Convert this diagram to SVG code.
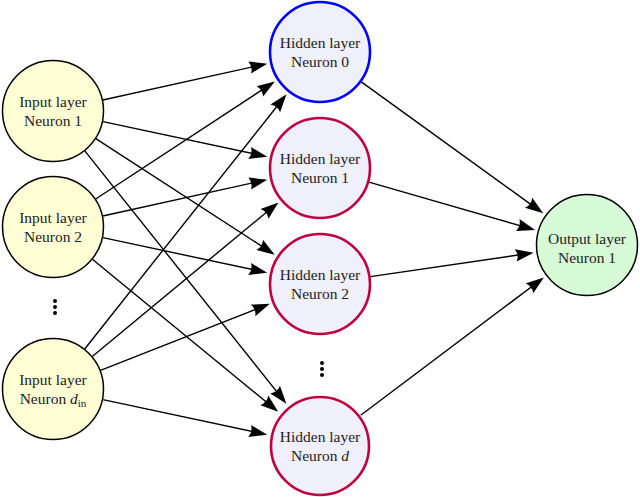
<svg xmlns="http://www.w3.org/2000/svg" width="640" height="497" viewBox="0 0 640 497">
<style>
.in{fill:#ffffd6;stroke:#000;stroke-width:1.5}
.hid{fill:#f0f0fd;stroke:#bf0040;stroke-width:2.6}
.hid0{fill:#f0f0fd;stroke:#0000ff;stroke-width:2.6}
.out{fill:#d6fbd6;stroke:#000;stroke-width:1.5}
text{font-family:"Liberation Serif","Times New Roman",serif;font-size:15.5px;fill:#222;text-anchor:middle}
.e line{stroke:#000;stroke-width:1.4;marker-end:url(#ah)}
.dot{fill:#000}
</style>
<defs>
<marker id="ah" markerUnits="userSpaceOnUse" markerWidth="18" markerHeight="14" viewBox="0 0 18 14" refX="15" refY="7" orient="auto">
<path d="M0,0.8 L18,7 L0,13.2 Q3.5,7 0,0.8 z" fill="#000"/>
</marker>
</defs>
<g id="connectors" class="e">
<line x1="102.8" y1="100.0" x2="264.3" y2="64.3"/>
<line x1="102.9" y1="121.6" x2="264.3" y2="156.1"/>
<line x1="95.8" y1="138.7" x2="272.2" y2="253.0"/>
<line x1="84.8" y1="150.9" x2="284.5" y2="401.4"/>
<line x1="95.7" y1="199.0" x2="272.3" y2="83.2"/>
<line x1="102.8" y1="216.0" x2="264.3" y2="180.3"/>
<line x1="102.9" y1="237.6" x2="264.3" y2="272.1"/>
<line x1="92.4" y1="259.3" x2="275.9" y2="409.9"/>
<line x1="84.7" y1="349.0" x2="284.6" y2="96.7"/>
<line x1="92.3" y1="356.5" x2="276.1" y2="204.3"/>
<line x1="100.5" y1="370.3" x2="267.0" y2="304.9"/>
<line x1="102.9" y1="399.6" x2="264.3" y2="434.1"/>
<line x1="361.3" y1="81.9" x2="540.8" y2="211.6"/>
<line x1="369.0" y1="182.1" x2="532.2" y2="229.2"/>
<line x1="370.5" y1="276.6" x2="530.6" y2="253.2"/>
<line x1="360.7" y1="415.3" x2="541.5" y2="279.3"/>
</g>
<g id="input1"><circle class="in" cx="53" cy="111" r="50.5"/><text x="53" y="107">Input layer</text><text x="53" y="126">Neuron 1</text></g>
<g id="input2"><circle class="in" cx="53" cy="227" r="50.5"/><text x="53" y="223">Input layer</text><text x="53" y="242">Neuron 2</text></g>
<g id="input-dots"><circle class="dot" cx="55" cy="301" r="2"/><circle class="dot" cx="55" cy="307" r="2"/><circle class="dot" cx="55" cy="313" r="2"/></g>
<g id="input-din"><circle class="in" cx="53" cy="389" r="50.5"/><text x="53" y="385">Input layer</text><text x="53" y="404">Neuron <tspan font-style="italic">d</tspan><tspan font-size="11" dy="3">in</tspan></text></g>
<g id="hidden0"><circle class="hid0" cx="320" cy="52" r="50"/><text x="320" y="48">Hidden layer</text><text x="320" y="67">Neuron 0</text></g>
<g id="hidden1"><circle class="hid" cx="320" cy="168" r="50"/><text x="320" y="164">Hidden layer</text><text x="320" y="183">Neuron 1</text></g>
<g id="hidden2"><circle class="hid" cx="320" cy="284" r="50"/><text x="320" y="280">Hidden layer</text><text x="320" y="299">Neuron 2</text></g>
<g id="hidden-dots"><circle class="dot" cx="322" cy="363" r="2"/><circle class="dot" cx="322" cy="369" r="2"/><circle class="dot" cx="322" cy="375" r="2"/></g>
<g id="hiddend"><circle class="hid" cx="320" cy="446" r="49"/><text x="320" y="442">Hidden layer</text><text x="320" y="461">Neuron <tspan font-style="italic">d</tspan></text></g>
<g id="output1"><circle class="out" cx="587" cy="245" r="50.5"/><text x="587" y="244">Output layer</text><text x="587" y="263">Neuron 1</text></g>
</svg>
